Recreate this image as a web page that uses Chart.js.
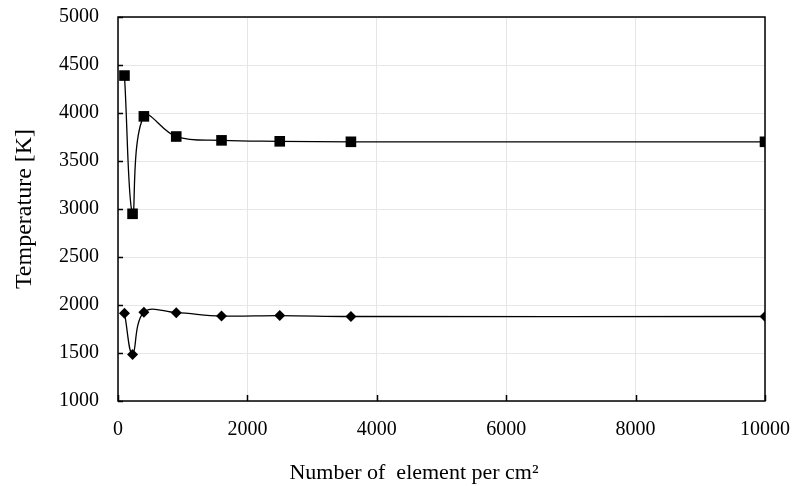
<!DOCTYPE html>
<html>
<head>
<meta charset="utf-8">
<script src="https://cdn.jsdelivr.net/npm/chart.js@4"></script>
<style>
  html, body { margin: 0; padding: 0; background: #fff; }
  #wrap { width: 799px; height: 486px; position: relative; }
</style>
</head>
<body>
<div id="wrap"><canvas id="chart" width="799" height="486"></canvas></div>
<script>
// elements per cm2 (mesh sizes)
const elements = [100, 225, 400, 900, 1600, 2500, 3600, 10000];
// upper curve (square markers)
const tempSquare = [4390, 2950, 3965, 3755, 3715, 3705, 3700, 3700];
// lower curve (diamond markers)
const tempDiamond = [1915, 1485, 1925, 1920, 1885, 1890, 1880, 1880];

const xTicks = [0, 2000, 4000, 6000, 8000, 10000];
const yTicks = [1000, 1500, 2000, 2500, 3000, 3500, 4000, 4500, 5000];

const toXY = (xs, ys) => xs.map((x, i) => ({ x: x, y: ys[i] }));

// draws the plot frame and the inward tick marks like the original figure
const framePlugin = {
  id: 'frame',
  afterDatasetsDraw(chart) {
    const { ctx, chartArea: a, scales } = chart;
    ctx.save();
    ctx.strokeStyle = '#000';
    ctx.lineWidth = 1.5;
    ctx.beginPath();
    yTicks.forEach(v => {
      const y = Math.round(scales.y.getPixelForValue(v)) + 0.5;
      ctx.moveTo(a.left, y);
      ctx.lineTo(a.left + 5, y);
    });
    xTicks.forEach(v => {
      const x = Math.round(scales.x.getPixelForValue(v)) + 0.5;
      ctx.moveTo(x, a.bottom);
      ctx.lineTo(x, a.bottom - 6);
    });
    ctx.stroke();
    ctx.strokeRect(a.left, a.top, a.right - a.left, a.bottom - a.top);
    ctx.restore();
  }
};

new Chart(document.getElementById('chart'), {
  type: 'line',
  data: {
    datasets: [{
      label: 'Square',
      data: toXY(elements, tempSquare),
      borderColor: '#000',
      backgroundColor: '#000',
      borderWidth: 1.3,
      tension: 0.4,
      pointStyle: 'rect',
      pointRadius: 7.5,
      pointBorderWidth: 0,
      fill: false
    }, {
      label: 'Diamond',
      data: toXY(elements, tempDiamond),
      borderColor: '#000',
      backgroundColor: '#000',
      borderWidth: 1.3,
      tension: 0.4,
      pointStyle: 'rectRot',
      pointRadius: 5.5,
      pointBorderWidth: 0,
      fill: false
    }]
  },
  options: {
    responsive: false,
    animation: false,
    layout: { padding: { left: 0, right: 34, top: 17, bottom: 0 } },
    plugins: { legend: { display: false }, tooltip: { enabled: false } },
    scales: {
      x: {
        type: 'linear',
        min: 0,
        max: 10000,
        afterBuildTicks: s => { s.ticks = xTicks.map(v => ({ value: v })); },
        afterFit: s => { s.height = 85; s.paddingLeft = 0; s.paddingRight = 0; },
        grid: { color: '#e6e6e6', lineWidth: 1, drawTicks: false },
        border: { display: false },
        ticks: {
          color: '#000',
          padding: 17,
          maxRotation: 0,
          callback: v => String(v),
          font: { family: 'Liberation Serif', size: 20 }
        },
        title: {
          display: true,
          text: 'Number of  element per cm\u00b2\u00a0\u00a0\u00a0\u00a0\u00a0\u00a0\u00a0\u00a0\u00a0\u00a0',
          color: '#000',
          padding: { top: 6, bottom: 0 },
          font: { family: 'Liberation Serif', size: 22 }
        }
      },
      y: {
        min: 1000,
        max: 5000,
        afterBuildTicks: s => { s.ticks = yTicks.map(v => ({ value: v })); },
        afterFit: s => { s.width = 118; s.paddingTop = 0; s.paddingBottom = 0; },
        grid: { color: '#e6e6e6', lineWidth: 1, drawTicks: false },
        border: { display: false },
        ticks: {
          color: '#000',
          padding: 19,
          callback: v => String(v),
          font: { family: 'Liberation Serif', size: 20 }
        },
        title: {
          display: true,
          text: 'Temperature [K]',
          color: '#000',
          padding: { top: 10, bottom: 0 },
          font: { family: 'Liberation Serif', size: 24 }
        }
      }
    }
  },
  plugins: [framePlugin]
});
</script>
</body>
</html>
